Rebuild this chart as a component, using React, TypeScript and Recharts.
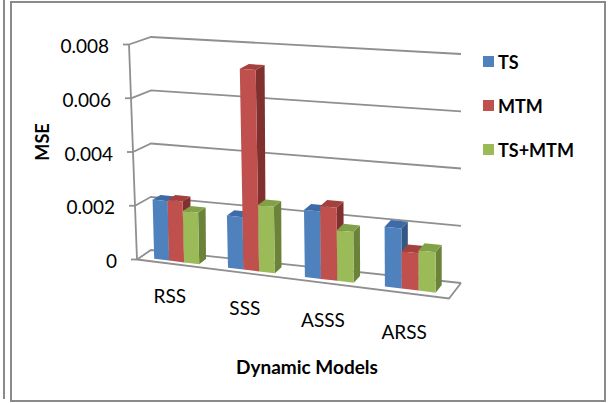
import { BarChart, Bar, XAxis, YAxis, CartesianGrid } from 'recharts';

// MSE per dynamic model
const MODELS = ['RSS', 'SSS', 'ASSS', 'ARSS'];
const TS = [0.0022, 0.0019, 0.0024, 0.0021];
const MTM = [0.00225, 0.0073, 0.0026, 0.0013];
const TS_MTM = [0.0019, 0.0024, 0.0018, 0.0014];
const SERIES_NAMES = ['TS', 'MTM', 'TS+MTM'];
const SERIES_KEYS = ['ts', 'mtm', 'tsMtm'];
const Y_TICKS = [0, 0.002, 0.004, 0.006, 0.008];

const data = MODELS.map((model, i) => ({ model, ts: TS[i], mtm: MTM[i], tsMtm: TS_MTM[i] }));

const PALETTE = [
  { front: '#4F81BD', top: '#3C6BA7', side: '#325986' },
  { front: '#C0504D', top: '#A4403D', side: '#80302E' },
  { front: '#9BBB59', top: '#82A048', side: '#6A8338' },
];

const FONT = 'Lato, "Open Sans", sans-serif';
const GRID = '#8f8f8f';

// flat plot area handed to recharts
const W = 608;
const H = 403;
const PLOT_L = 137;
const PLOT_W = 312;
const PLOT_T = 40;
const PLOT_H = 215;
const PLOT_B = PLOT_T + PLOT_H;
const YAXIS_W = 60;
const XAXIS_H = 40;

// perspective box: front and back planes of the floor/walls
const FRONT = { x0: 137, x1: 449, y0: 259.5, y1: 298.5, h0: 215, h1: 232 };
const BACK = { x0: 151, x1: 461, y0: 250, y1: 283, h0: 213, h1: 229 };
const WARP = 0.08;
const TILT = 8;
const BAR_D0 = 0.25;
const BAR_D1 = 0.75;

const lerp = (a: number, b: number, k: number) => a + (b - a) * k;

// t: 0..1 along categories, f: 0..1 of value range, d: 0 front .. 1 back
function project(t: number, f: number, d: number): [number, number] {
  const u = t + WARP * t * (t - 1);
  const fx = lerp(FRONT.x0, FRONT.x1, u);
  const bx = lerp(BACK.x0, BACK.x1, u);
  const fy = lerp(FRONT.y0, FRONT.y1, u);
  const by = lerp(BACK.y0, BACK.y1, u);
  const fh = lerp(FRONT.h0, FRONT.h1, u);
  const bh = lerp(BACK.h0, BACK.h1, u);
  const x = lerp(fx, bx, d) - TILT * f * (1 - u) * (1 - d);
  const y = lerp(fy, by, d) - f * lerp(fh, bh, d);
  return [x, y];
}

const pts = (arr: [number, number][]) => arr.map((p) => `${p[0].toFixed(1)},${p[1].toFixed(1)}`).join(' ');

function Box3D(props: any) {
  const { x, y, width, height, pal } = props;
  if (x == null || !height) return null;
  const t0 = (x - PLOT_L) / PLOT_W;
  const t1 = (x + width - PLOT_L) / PLOT_W;
  const f = (PLOT_B - y) / PLOT_H;
  const front = [project(t0, 0, BAR_D0), project(t1, 0, BAR_D0), project(t1, f, BAR_D0), project(t0, f, BAR_D0)];
  const top = [project(t0, f, BAR_D0), project(t1, f, BAR_D0), project(t1, f, BAR_D1), project(t0, f, BAR_D1)];
  const side = [project(t1, 0, BAR_D0), project(t1, 0, BAR_D1), project(t1, f, BAR_D1), project(t1, f, BAR_D0)];
  return (
    <g>
      <polygon points={pts(side as any)} fill={pal.side} />
      <polygon points={pts(top as any)} fill={pal.top} />
      <polygon points={pts(front as any)} fill={pal.front} />
    </g>
  );
}

// back wall + side wall gridline, floor and front axis on the zero line
function WallLine(props: any) {
  const f = (PLOT_B - props.y1) / PLOT_H;
  const line = [project(0, f, 0), project(0, f, 1), project(1, f, 1)];
  const isFloor = Math.abs(f) < 1e-6;
  return (
    <g key={props.key ?? `wall-${props.index}`}>
      <polyline points={pts(line)} fill="none" stroke={GRID} strokeWidth={1.8} />
      {isFloor && (
        <>
          <polyline points={pts([project(0, 0, 0), project(1, 0, 0), project(1, 0, 1)])} fill="none" stroke={GRID} strokeWidth={1.8} />
          <line x1={project(0, 0, 0)[0]} y1={project(0, 0, 0)[1]} x2={project(0, 1, 0)[0]} y2={project(0, 1, 0)[1]} stroke={GRID} strokeWidth={1.8} />
        </>
      )}
    </g>
  );
}

function YTick(props: any) {
  const { y, payload } = props;
  const f = (PLOT_B - y) / PLOT_H;
  const [px, py] = project(0, f, 0);
  const v = payload.value;
  return (
    <g>
      <line x1={px - 6} y1={py} x2={px} y2={py} stroke={GRID} strokeWidth={1.8} />
      <text x={px - 20} y={py + 1} textAnchor="end" dominantBaseline="central" fontFamily={FONT} fontSize={19} fill="#000">
        {v === 0 ? '0' : v.toFixed(3)}
      </text>
    </g>
  );
}

function XTick(props: any) {
  const { x, payload } = props;
  const t = (x - PLOT_L) / PLOT_W;
  const [px, py] = project(t, 0, -0.25);
  return (
    <text x={px} y={py + 28 + 8 * t} textAnchor="middle" dominantBaseline="central" fontFamily={FONT} fontSize={19} fill="#000">
      {payload.value}
    </text>
  );
}

const xTitle = () => (
  <text x={PLOT_L + PLOT_W / 2 + 14} y={366} textAnchor="middle" dominantBaseline="central" fontFamily={FONT} fontWeight="bold" fontSize={19} fill="#000">
    Dynamic Models
  </text>
);

const yTitle = () => (
  <text x={42} y={142} transform="rotate(-90 42 142)" textAnchor="middle" dominantBaseline="central" fontFamily={FONT} fontWeight="bold" fontSize={18} fill="#000">
    MSE
  </text>
);

export default function App() {
  return (
    <div style={{ position: 'absolute', left: 0, top: 0, width: W, height: H, background: '#fff', fontFamily: FONT }}>
      <div style={{ position: 'absolute', left: 3, top: 0, width: 2, height: 399, background: '#8a8a8a' }} />
      <div style={{ position: 'absolute', left: 10, top: 1, width: 596, height: 401, border: '2px solid #8a8a8a', boxSizing: 'border-box' }} />
      <div style={{ position: 'absolute', left: 0, top: 0 }}>
        <BarChart
          width={W}
          height={H}
          data={data}
          margin={{ top: PLOT_T, right: W - PLOT_L - PLOT_W, bottom: H - PLOT_B - XAXIS_H, left: PLOT_L - YAXIS_W }}
          barCategoryGap="19%"
          barGap={0}
        >
          <CartesianGrid vertical={false} horizontal={(p: any) => <WallLine {...p} />} />
          <XAxis dataKey="model" axisLine={false} tickLine={false} height={XAXIS_H} interval={0} tick={<XTick />} label={xTitle} />
          <YAxis
            type="number"
            domain={[0, 0.008]}
            ticks={Y_TICKS}
            axisLine={false}
            tickLine={false}
            width={YAXIS_W}
            tick={<YTick />}
            label={yTitle}
          />
          {SERIES_KEYS.map((k, i) => (
            <Bar
              key={k}
              dataKey={k}
              name={SERIES_NAMES[i]}
              fill={PALETTE[i].front}
              isAnimationActive={false}
              shape={(p: any) => <Box3D {...p} pal={PALETTE[i]} />}
            />
          ))}
        </BarChart>
      </div>
      <div style={{ position: 'absolute', left: 483, top: 50 }}>
        {SERIES_NAMES.map((name, i) => (
          <div key={name} style={{ display: 'flex', alignItems: 'center', height: 23, marginBottom: 21 }}>
            <span style={{ width: 11, height: 11, background: PALETTE[i].front, marginRight: 4 }} />
            <span style={{ fontWeight: 'bold', fontSize: 18, color: '#000' }}>{name}</span>
          </div>
        ))}
      </div>
    </div>
  );
}
